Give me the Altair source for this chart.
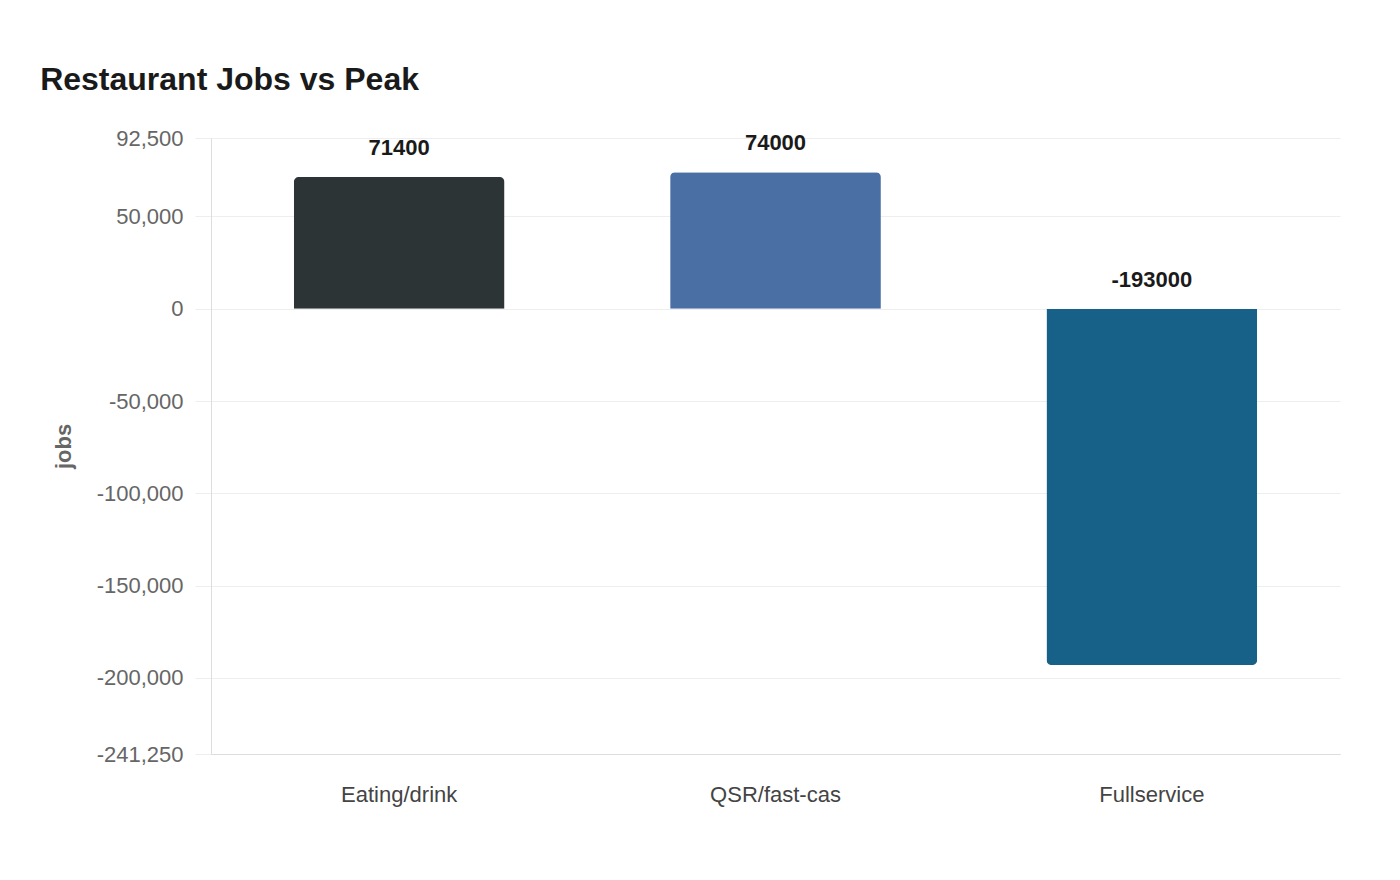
import pandas as pd
import altair as alt

# Data
segments = ["Eating/drink", "QSR/fast-cas", "Fullservice"]
jobs = [71400, 74000, -193000]
bar_colors = ["#2d3436", "#4a6fa5", "#176087"]
y_ticks = [92500, 50000, 0, -50000, -100000, -150000, -200000, -241250]

df = pd.DataFrame({"segment": segments, "jobs": jobs})
df["label_y"] = df["jobs"].clip(lower=0)
df["label"] = df["jobs"].astype(str)

FONT = "Liberation Sans"
y_scale = alt.Scale(domain=[-241250, 92500], nice=False, zero=False)
y_axis = alt.Axis(
    values=y_ticks,
    labelExpr="replace(format(datum.value, ',d'), '\u2212', '-')",
    labelFontSize=22, labelColor="#666666",
    labelPadding=12, tickSize=16, tickColor="#eeeeee", gridColor="#eeeeee",
    domainColor="#dddddd", titleFontSize=22, titleColor="#666666",
    titleFontWeight="bold", titlePadding=21,
)

x_enc = alt.X(
    "segment:N",
    sort=segments,
    title=None,
    scale=alt.Scale(paddingInner=0.44, paddingOuter=0.22),
    axis=alt.Axis(
        labelAngle=0, labelFontSize=22, labelColor="#444444", labelPadding=30,
        ticks=False, tickSize=0, domainColor="#dddddd", grid=False,
    ),
)
y_enc = alt.Y("jobs:Q", title="jobs", scale=y_scale, axis=y_axis)
color_enc = alt.Color("segment:N", scale=alt.Scale(domain=segments, range=bar_colors), legend=None)

base = alt.Chart(df).encode(x=x_enc, y=y_enc, color=color_enc)

# rounded corners only at the end away from zero
pos_bars = base.transform_filter("datum.jobs >= 0").mark_bar(
    cornerRadiusTopLeft=5, cornerRadiusTopRight=5
)
neg_bars = base.transform_filter("datum.jobs < 0").mark_bar(
    cornerRadiusBottomLeft=5, cornerRadiusBottomRight=5
)

labels = alt.Chart(df).mark_text(
    fontSize=22, fontWeight="bold", color="#1a1a1a", baseline="alphabetic", dy=-22
).encode(
    x=x_enc,
    y=alt.Y("label_y:Q", title="jobs", scale=y_scale, axis=y_axis),
    text="label:N",
)

chart = (pos_bars + neg_bars + labels).properties(
    width=1129,
    height=616,
    padding={"left": 32, "top": 56, "right": 40, "bottom": 20},
    title=alt.TitleParams(
        "Restaurant Jobs vs Peak", anchor="start", frame="bounds",
        fontSize=32, fontWeight="bold", color="#1a1a1a", offset=30, dx=-12,
    ),
).configure(font=FONT).configure_view(strokeWidth=0)

chart.save("out.html", embed_options={"renderer": "svg", "actions": False})
